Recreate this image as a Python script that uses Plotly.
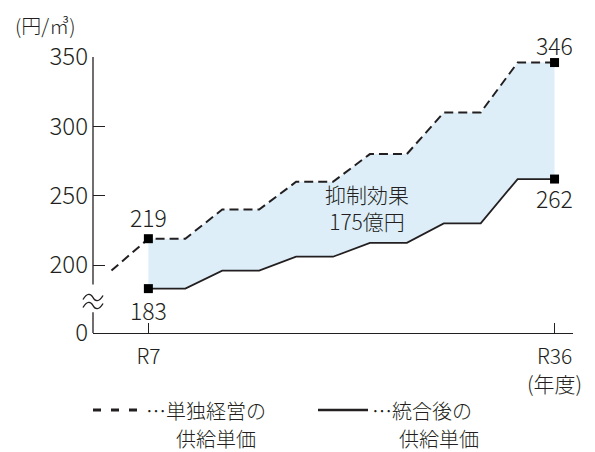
import plotly.graph_objects as go

# ---- data ----
step = [-1, 0, 1, 2, 3, 4, 5, 6, 7, 8, 9, 10, 11]            # period steps (R7 = 0, R36 = 11)
standalone_price = [196, 219, 219, 240, 240, 260, 260, 280, 280, 310, 310, 346, 346]
merged_step = [0, 1, 2, 3, 4, 5, 6, 7, 8, 9, 10, 11]
merged_price = [183, 183, 196, 196, 206, 206, 216, 216, 230, 230, 262, 262]
x_tick_steps = [0, 11]
x_tick_labels = ["R7", "R36<br>(年度)"]
y_tick_vals = [151, 200, 250, 300, 350]
y_tick_labels = ["0", "200", "250", "300", "350"]
effect_label = "抑制効果<br>175億円"
unit_label = "(円/㎥)"
legend_standalone = ["…単独経営の", "供給単価"]
legend_merged = ["…統合後の", "供給単価"]

FONT = "Noto Sans CJK JP, Noto Sans, sans-serif"
WT = 300
INK = "#231f20"
FILL = "#ddeef9"

W, H = 595, 452
L, R, T, B = 93, 22, 57, 119
PW, PH = W - L - R, H - T - B


def px_x(x):
    return (x - L) / PW


def px_y(y):
    return (H - B - y) / PH


def f(size):
    return dict(family=FONT, size=size, color=INK, weight=WT)


fig = go.Figure()

# filled band between the two price paths (from R7 onward)
fig.add_trace(go.Scatter(x=merged_step, y=merged_price, mode="lines",
                         line=dict(width=0), hoverinfo="skip", showlegend=False))
fig.add_trace(go.Scatter(x=step[1:], y=standalone_price[1:], mode="lines",
                         line=dict(width=0), fill="tonexty", fillcolor=FILL,
                         hoverinfo="skip", showlegend=False))

# lines
fig.add_trace(go.Scatter(x=step, y=standalone_price, mode="lines",
                         line=dict(color=INK, width=2, dash="9px,5px"),
                         showlegend=False))
fig.add_trace(go.Scatter(x=merged_step, y=merged_price, mode="lines",
                         line=dict(color=INK, width=1.8), showlegend=False))

# endpoint markers
end_x = [step[1], step[-1], merged_step[0], merged_step[-1]]
end_y = [standalone_price[1], standalone_price[-1], merged_price[0], merged_price[-1]]
fig.add_trace(go.Scatter(x=end_x, y=end_y, mode="markers",
                         marker=dict(symbol="square", size=9, color="#000"),
                         cliponaxis=False, showlegend=False))

annotations = []
# endpoint value labels (top ones above, bottom ones below)
label_shift = [22, 18, -21, -19]
for xv, yv, sh in zip(end_x, end_y, label_shift):
    annotations.append(dict(text=str(yv), x=xv, y=yv, xref="x", yref="y",
                            yshift=sh, xanchor="center", yanchor="middle",
                            showarrow=False, font=f(23)))

shapes = []
# y axis line with a break
shapes.append(dict(type="line", xref="paper", yref="y", x0=0, x1=0, y0=151, y1=166,
                   line=dict(color=INK, width=1.3)))
shapes.append(dict(type="line", xref="paper", yref="y", x0=0, x1=0, y0=186, y1=350,
                   line=dict(color=INK, width=1.3)))


# break mark: two small waves
def wave(cy):
    pts = [(83, cy + 2), (87, cy - 5), (91, cy - 4), (93, cy), (95, cy + 4), (99, cy + 5), (103, cy - 2)]
    p = [(px_x(a), px_y(b)) for a, b in pts]
    return (f"M {p[0][0]},{p[0][1]} C {p[1][0]},{p[1][1]} {p[2][0]},{p[2][1]} {p[3][0]},{p[3][1]} "
            f"C {p[4][0]},{p[4][1]} {p[5][0]},{p[5][1]} {p[6][0]},{p[6][1]}")


for cy in (297.5, 305.5):
    shapes.append(dict(type="path", xref="paper", yref="paper", path=wave(cy),
                       line=dict(color=INK, width=1.4)))

# legend keys
shapes.append(dict(type="line", xref="paper", yref="paper",
                   x0=px_x(93), x1=px_x(138), y0=px_y(410), y1=px_y(410),
                   line=dict(color=INK, width=3, dash="8px,10px")))
shapes.append(dict(type="line", xref="paper", yref="paper",
                   x0=px_x(318), x1=px_x(368), y0=px_y(410), y1=px_y(410),
                   line=dict(color=INK, width=2.5)))


def note(text, x, y, size, anchor="left"):
    annotations.append(dict(text=text, xref="paper", yref="paper", x=px_x(x), y=px_y(y),
                            xanchor=anchor, yanchor="middle", showarrow=False, font=f(size)))


note(unit_label, 13, 26, 20)
note(effect_label, 367, 207, 21, "center")
note(legend_standalone[0], 144, 410, 20)
note(legend_standalone[1], 174, 438, 20)
note(legend_merged[0], 370, 410, 20)
note(legend_merged[1], 397, 438, 20)

fig.update_layout(
    width=W, height=H,
    margin=dict(l=L, r=R, t=T, b=B),
    paper_bgcolor="white", plot_bgcolor="white",
    shapes=shapes, annotations=annotations,
    font=dict(family=FONT, color=INK),
    xaxis=dict(range=[-1.5, 11.5], showgrid=False, zeroline=False,
               showline=True, linecolor=INK, linewidth=1.3,
               ticks="inside", ticklen=10, tickwidth=1.3, tickcolor=INK,
               tickvals=x_tick_steps, ticktext=x_tick_labels,
               ticklabelstandoff=5,
               tickfont=f(21)),
    yaxis=dict(range=[151, 350], showgrid=False, zeroline=False, showline=False,
               ticks="inside", ticklen=12, tickwidth=1.3, tickcolor=INK,
               tickvals=y_tick_vals, ticktext=y_tick_labels,
               ticklabelstandoff=4,
               tickfont=f(24)),
)

fig.write_html("out.html", post_script="document.body.style.margin='0';",
               config={"displayModeBar": False})
